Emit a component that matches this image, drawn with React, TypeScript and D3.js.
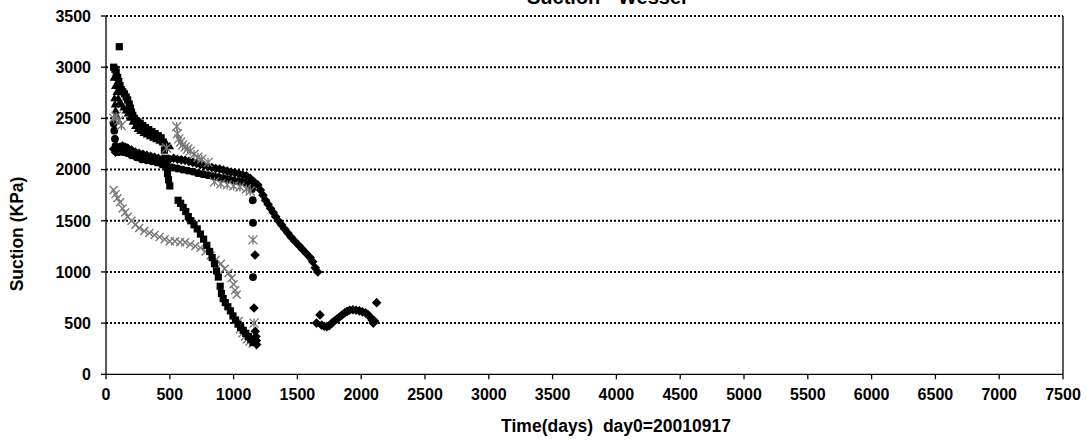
import React from 'react';
import * as d3 from 'd3';

// ---- ticks ----
const xTicks = [0, 500, 1000, 1500, 2000, 2500, 3000, 3500, 4000, 4500, 5000, 5500, 6000, 6500, 7000, 7500];
const yTicks = [0, 500, 1000, 1500, 2000, 2500, 3000, 3500];

const titleText = 'Suction - Wessel';
const xTitle = 'Time(days)\u00a0\u00a0day0=20010917';
const yTitle = 'Suction (KPa)';

// ---- series (day, kPa) ----
const squareSeries: [number, number][] = [
  [104, 3200], [60, 3000], [70, 2980], [80, 2950], [92, 2900], [100, 2860], [110, 2820], [120, 2780],
  [132, 2760], [145, 2740], [158, 2710], [170, 2680], [182, 2640], [192, 2600], [200, 2560], [210, 2530],
  [222, 2500], [236, 2480], [250, 2465], [268, 2450], [288, 2430], [310, 2410], [335, 2390], [360, 2370],
  [385, 2350], [410, 2330], [432, 2310], [448, 2270], [458, 2190], [466, 2110], [474, 2030], [482, 1960],
  [490, 1900], [500, 1840],
  [565, 1700], [585, 1670], [605, 1630], [625, 1590], [645, 1540], [665, 1500], [690, 1460], [715, 1420],
  [740, 1370], [765, 1320], [790, 1260], [812, 1200], [832, 1140], [850, 1080], [866, 1010], [880, 950],
  [895, 860], [905, 790], [918, 740], [935, 700], [955, 660], [975, 620], [995, 570], [1015, 530],
  [1035, 490], [1055, 460], [1075, 430], [1095, 400], [1115, 370], [1135, 340], [1152, 310],
];

const triangleSeries: [number, number][] = [
  [62, 2900], [66, 2700], [70, 2640], [72, 2820], [75, 2580], [80, 2540], [84, 2760], [96, 2700],
  [108, 2660], [122, 2640], [138, 2610], [155, 2580], [172, 2550], [190, 2510], [210, 2470], [230, 2430],
  [250, 2400], [270, 2380], [295, 2360], [320, 2345], [345, 2330], [370, 2315], [395, 2300], [420, 2285],
  [445, 2270], [475, 2255], [500, 2230],
];

const diamondSeries: [number, number][] = [
  [60, 2200], [75, 2170], [90, 2190], [110, 2220], [130, 2230], [150, 2220], [170, 2210], [200, 2190],
  [230, 2170], [260, 2160], [290, 2150], [320, 2140], [350, 2130], [380, 2120], [410, 2110], [440, 2100],
  [470, 2090], [500, 2100], [530, 2110], [560, 2100], [590, 2095], [620, 2090], [650, 2080], [680, 2070],
  [710, 2060], [740, 2050], [770, 2040], [800, 2030], [830, 2020], [860, 2010], [890, 2005], [920, 1995],
  [950, 1985], [980, 1975], [1010, 1970], [1040, 1960], [1070, 1950], [1100, 1940], [1130, 1915],
  [1160, 1880], [1190, 1850], [1210, 1800], [1230, 1750], [1250, 1700], [1270, 1660], [1290, 1620],
  [1310, 1580], [1330, 1540], [1350, 1500], [1375, 1460], [1400, 1420], [1425, 1380], [1450, 1340],
  [1480, 1300], [1510, 1260], [1540, 1220], [1570, 1180], [1600, 1140], [1620, 1100], [1640, 1040],
  [1660, 1000],
  [1168, 1166], [1160, 648], [1170, 420], [1175, 370], [1178, 330], [1180, 290],
];

const lateDiamondSeries: [number, number][] = [
  [1650, 500], [1677, 580], [1690, 480], [1710, 470], [1730, 465], [1750, 475], [1770, 500], [1790, 520],
  [1810, 540], [1830, 560], [1850, 580], [1870, 600], [1890, 615], [1910, 625], [1935, 630], [1960, 625],
  [1985, 620], [2010, 610], [2035, 600], [2055, 580], [2070, 560], [2085, 530], [2095, 500], [2105, 520],
  [2121, 700],
];

const circleSeries: [number, number][] = [
  [60, 2450], [65, 2380], [70, 2300], [75, 2230], [80, 2180], [95, 2170], [115, 2180], [140, 2170],
  [170, 2160], [200, 2140], [240, 2120], [280, 2100], [320, 2090], [360, 2080], [400, 2070], [440, 2050],
  [480, 2030], [520, 2020], [560, 2010], [600, 2000], [640, 1990], [680, 1980], [720, 1965], [760, 1955],
  [800, 1945], [840, 1935], [880, 1925], [920, 1915], [960, 1905], [1000, 1895], [1040, 1885],
  [1080, 1875], [1120, 1860], [1145, 1810], [1150, 1700], [1152, 1480], [1152, 950],
];

const starSeries: [number, number][] = [
  [60, 2500], [80, 2520], [100, 2480], [120, 2430], [475, 2210],
  [554, 2420], [560, 2350], [570, 2300], [585, 2270], [600, 2240], [620, 2220], [640, 2200], [660, 2180],
  [690, 2150], [720, 2120], [750, 2100], [800, 2070], [850, 1880], [900, 1860], [950, 1850], [1000, 1840],
  [1050, 1830], [1100, 1810], [1130, 1790], [1152, 1313], [1160, 500],
];

const crossSeries: [number, number][] = [
  [60, 1800], [75, 1760], [90, 1720], [110, 1680], [130, 1620], [150, 1580], [170, 1540], [200, 1500],
  [230, 1460], [260, 1430], [300, 1400], [340, 1380], [380, 1360], [420, 1340], [460, 1320], [500, 1300],
  [540, 1300], [580, 1290], [620, 1290], [660, 1270], [700, 1250], [740, 1235], [780, 1200], [820, 1160],
  [860, 1120], [900, 1080], [930, 1030], [960, 990], [985, 940], [1000, 880], [1012, 820], [1024, 780],
  [1040, 520], [1050, 440], [1070, 400], [1090, 370], [1105, 340], [1125, 320], [1150, 300],
];

// ---- layout ----
const W = 1087;
const H = 441;
const PL = 106, PR = 1063, PT = 16, PB = 374.3;

const x = d3.scaleLinear().domain([0, 7500]).range([PL, PR]);
const y = d3.scaleLinear().domain([0, 3500]).range([PB, PT]);

type Kind = 'square' | 'triangle' | 'diamond' | 'circle' | 'star' | 'cross';

function markerPath(kind: Kind): string {
  switch (kind) {
    case 'square': {
      const h = 3.6;
      return `M${-h},${-h}H${h}V${h}H${-h}Z`;
    }
    case 'triangle': {
      const h = 4.2;
      return `M0,${-h}L${h},${h * 0.8}L${-h},${h * 0.8}Z`;
    }
    case 'diamond': {
      const h = 4.8;
      return `M0,${-h}L${h},0L0,${h}L${-h},0Z`;
    }
    case 'circle': {
      return d3.symbol(d3.symbolCircle, 48)() as string;
    }
    case 'star': {
      const h = 4.5;
      return `M0,${-h}V${h}M${-h},${-h}L${h},${h}M${h},${-h}L${-h},${h}`;
    }
    case 'cross': {
      const h = 4;
      return `M${-h},${-h}L${h},${h}M${h},${-h}L${-h},${h}`;
    }
  }
}

const FONT = '"Liberation Sans", Arial, sans-serif';

function Series({ data, kind, fill, stroke, sw }: { data: [number, number][]; kind: Kind; fill: string; stroke: string; sw: number }) {
  const p = markerPath(kind);
  return (
    <g>
      {data.map((d, i) => (
        <path key={i} d={p} transform={`translate(${x(d[0])},${y(d[1])})`} fill={fill} stroke={stroke} strokeWidth={sw} />
      ))}
    </g>
  );
}

export default function App() {
  return (
    <svg width={W} height={H} style={{ position: 'absolute', left: 0, top: 0, background: '#fff' }} fontFamily={FONT}>
      <rect x={0} y={0} width={W} height={H} fill="#fff" />
      {/* title (cut off at top) */}
      <text x={527} y={4} fontSize={20} fontWeight="bold" fill="#000">{titleText}</text>

      {/* gridlines */}
      {yTicks.filter((t) => t > 0).map((t) => (
        <line key={t} x1={PL} x2={PR} y1={y(t)} y2={y(t)} stroke="#000" strokeWidth={2} strokeDasharray="2,2" />
      ))}

      {/* axes */}
      <line x1={PL} x2={PL} y1={PT} y2={PB} stroke="#000" strokeWidth={1.3} />
      <line x1={PR} x2={PR} y1={PT} y2={PB} stroke="#000" strokeWidth={1.3} />
      <line x1={PL} x2={PR} y1={PB} y2={PB} stroke="#000" strokeWidth={1.3} />
      {yTicks.map((t) => (
        <g key={t}>
          <line x1={PL - 5} x2={PL} y1={y(t)} y2={y(t)} stroke="#000" strokeWidth={1.3} />
          <text x={91} y={y(t)} dy="0.36em" textAnchor="end" fontSize={16} fontWeight="bold">{t}</text>
        </g>
      ))}
      {xTicks.map((t) => (
        <g key={t}>
          <line x1={x(t)} x2={x(t)} y1={PB} y2={PB + 5} stroke="#000" strokeWidth={1.3} />
          <text x={x(t)} y={400} textAnchor="middle" fontSize={16} fontWeight="bold">{t}</text>
        </g>
      ))}
      <text x={616} y={432} textAnchor="middle" fontSize={17.5} fontWeight="bold">{xTitle}</text>
      <text transform={`translate(23,234) rotate(-90)`} textAnchor="middle" fontSize={17.5} fontWeight="bold">{yTitle}</text>

      {/* data */}
      <Series data={crossSeries} kind="cross" fill="none" stroke="#777" sw={1.4} />
      <Series data={squareSeries} kind="square" fill="#000" stroke="none" sw={0} />
      <Series data={triangleSeries} kind="triangle" fill="#000" stroke="none" sw={0} />
      <Series data={circleSeries} kind="circle" fill="#000" stroke="none" sw={0} />
      <Series data={diamondSeries} kind="diamond" fill="#000" stroke="none" sw={0} />
      <Series data={lateDiamondSeries} kind="diamond" fill="#000" stroke="none" sw={0} />
      <Series data={starSeries} kind="star" fill="none" stroke="#777" sw={1.3} />
    </svg>
  );
}
